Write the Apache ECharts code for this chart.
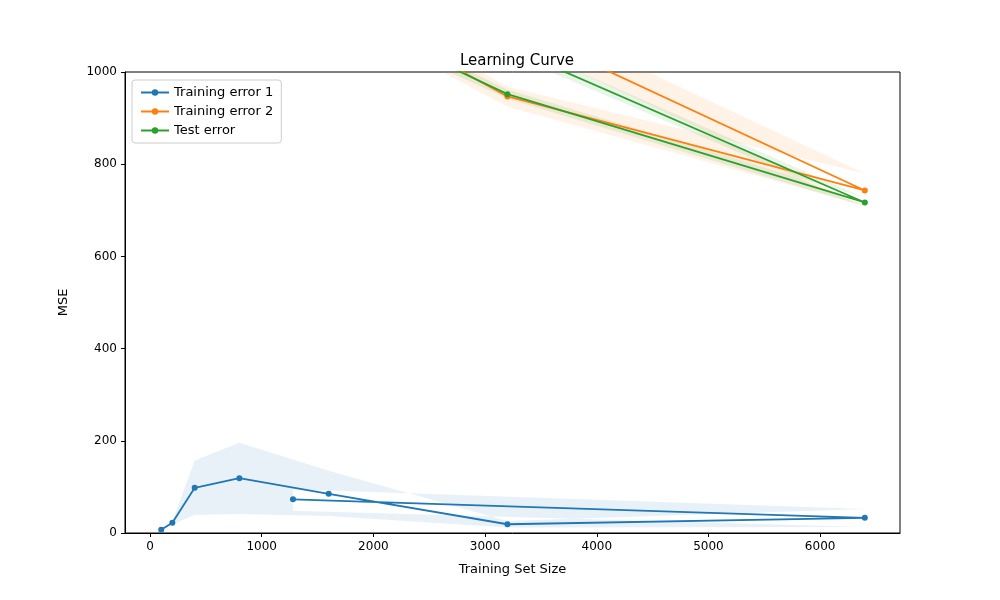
<!DOCTYPE html>
<html><head><meta charset="utf-8">
<script src="https://cdn.jsdelivr.net/npm/echarts@6/dist/echarts.min.js"></script>
<style>html,body{margin:0;background:#fff}#c{width:1000px;height:600px}</style>
</head><body><div id="c"></div>
<script>
// x order follows the original runs (last point jumps back to 1280)
var xTrain1 = [100, 200, 400, 800, 1600, 3200, 6400, 1280];
var train1 = [7, 22, 98, 119, 85, 19, 33, 73];
var train1Up = [8, 25, 157, 196, 135, 26, 52, 95];
var train1Lo = [6, 19, 39, 41, 37, 12, 13, 48];

var xOther = [1600, 3200, 6400, 1280];
var train2 = [1159, 947, 743, 1320];
var train2Up = [1190, 968, 780, 1360];
var train2Lo = [1130, 925, 710, 1290];
var test = [1135, 952, 717, 1257];
var testUp = [1150, 962, 727, 1275];
var testLo = [1120, 942, 708, 1240];

var xTicks = [0, 1000, 2000, 3000, 4000, 5000, 6000];

function pairs(xs, ys){ return xs.map(function(x, i){ return [x, ys[i]]; }); }

function band(xs, up, lo, color){
  var pts = [];
  for (var i = 0; i < xs.length; i++) pts.push([xs[i], up[i]]);
  for (var j = xs.length - 1; j >= 0; j--) pts.push([xs[j], lo[j]]);
  return {
    type: 'custom', clip: true, silent: true, z: 1,
    data: [0],
    renderItem: function(params, api){
      return { type: 'polygon',
        shape: { points: pts.map(function(p){ return api.coord(p); }) },
        style: { fill: color, opacity: 0.1 } };
    }
  };
}

function line(name, xs, ys, color){
  return { name: name, type: 'line', data: pairs(xs, ys), color: color,
    symbol: 'circle', symbolSize: 6, z: 3,
    lineStyle: { width: 1.8 }, animation: false };
}

function plain(v){ return String(v); }

var chart = echarts.init(document.getElementById('c'));
chart.setOption({
  animation: false,
  title: { text: 'Learning Curve', left: 512, top: 49, textAlign: 'center',
    textStyle: { fontFamily: 'DejaVu Sans', fontSize: 15, fontWeight: 'normal', color: '#000' } },
  grid: { left: 125, right: 100, top: 72, bottom: 67, show: true, borderColor: '#000', borderWidth: 1 },
  legend: { orient: 'vertical', left: 132, top: 80, padding: [6, 8], itemGap: 6,
    itemWidth: 28, itemHeight: 8, borderColor: '#ccc', borderWidth: 1, borderRadius: 3,
    data: ['Training error 1', 'Training error 2', 'Test error'],
    textStyle: { fontFamily: 'DejaVu Sans', fontSize: 13, color: '#000' } },
  xAxis: { type: 'value', min: -224, max: 6715,
    name: 'Training Set Size', nameLocation: 'middle', nameGap: 30,
    nameTextStyle: { fontFamily: 'DejaVu Sans', fontSize: 13, color: '#000' },
    splitLine: { show: false },
    axisLine: { onZero: false, lineStyle: { color: '#000' } },
    axisTick: { show: true, customValues: xTicks, length: 4, lineStyle: { color: '#000' } },
    axisLabel: { customValues: xTicks, formatter: plain, fontFamily: 'DejaVu Sans', fontSize: 12, color: '#000' } },
  yAxis: { type: 'value', min: 0, max: 1000, interval: 200,
    name: 'MSE', nameLocation: 'middle', nameGap: 55,
    nameTextStyle: { fontFamily: 'DejaVu Sans', fontSize: 13, color: '#000' },
    splitLine: { show: false },
    axisLine: { show: true, onZero: false, lineStyle: { color: '#000' } },
    axisTick: { show: true, length: 4, lineStyle: { color: '#000' } },
    axisLabel: { formatter: plain, fontFamily: 'DejaVu Sans', fontSize: 12, color: '#000' } },
  series: [
    band(xTrain1, train1Up, train1Lo, '#1f77b4'),
    band(xOther, train2Up, train2Lo, '#ff7f0e'),
    band(xOther, testUp, testLo, '#2ca02c'),
    line('Training error 1', xTrain1, train1, '#1f77b4'),
    line('Training error 2', xOther, train2, '#ff7f0e'),
    line('Test error', xOther, test, '#2ca02c')
  ]
});
</script></body></html>
